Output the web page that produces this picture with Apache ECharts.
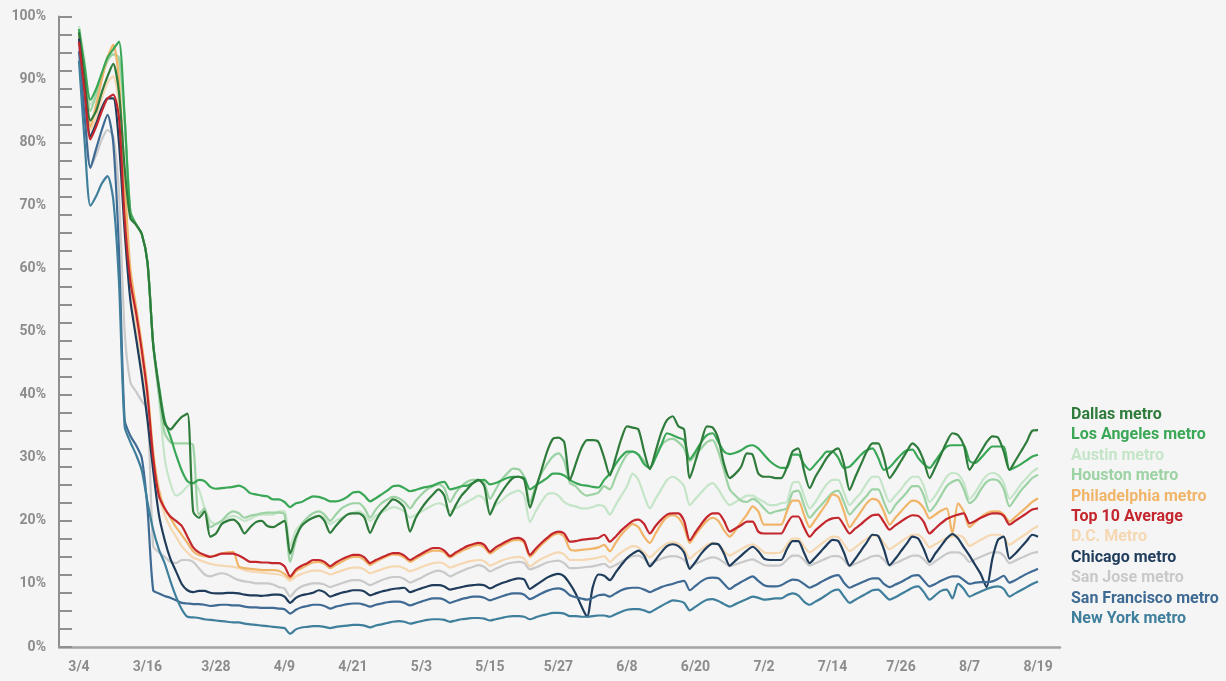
<!DOCTYPE html>
<html>
<head>
<meta charset="utf-8">
<script src="https://cdn.jsdelivr.net/npm/echarts@6/dist/echarts.min.js"></script>
<style>
html,body{margin:0;padding:0;background:#f5f5f5;}
#chart{width:1226px;height:681px;}
</style>
</head>
<body>
<div id="chart"></div>
<script>
// Day index 0 = 3/4 ... 168 = 8/19 (daily values, % of baseline)
const tickLabels = ['3/4','3/16','3/28','4/9','4/21','5/3','5/15','5/27','6/8','6/20','7/2','7/14','7/26','8/7','8/19'];
const yLabels = [0,10,20,30,40,50,60,70,80,90,100];

const dallas = [97.5,90,83.5,85,88,90.5,92.5,88,76,68,
67,65.5,61,48,41,35.5,34.5,35.5,36.5,37,
21.5,20.5,21.5,17.5,18,19.5,20,20.2,19.5,18,
19,19.8,20,19.2,19,19.5,20,14.8,17.5,19.2,
20,20.5,20.8,20,18.1,19.2,20.2,21,21.2,21.2,
20.5,18.1,20,21.5,22.5,23.4,23,22,18.3,20.5,
22,23.2,24.2,25,24,20.8,22.5,24,25,26,
26.5,25.5,21,23,24.5,25.8,26.8,27,26.5,22.1,
25,28,31,33,33.2,32.5,26.5,29,31.5,32.8,
32.8,32.5,30,27.2,30,33,35,34.8,34.5,31,
28.2,31,34,36,36.6,35,34.5,26.8,29.5,32.5,
35,34.8,33,29,26.8,27.5,28.6,30.7,30.5,27.5,
27,27,26.8,26.8,28.5,31,31.5,28,25.2,27,
28.5,30,31,31.5,29,24.9,27,29,31,32.3,
32.3,30,26.8,28,29.5,31,32.3,31.5,29.5,26.8,
28.5,30.5,32.5,33.9,33.6,32,28.1,29.5,31,32.5,
33.4,33.2,31,28.1,29.5,31,32.5,34.3,34.4];

const losAngeles = [98,92,86.8,88.5,91,93.5,94.8,96,84,69,
67,65.5,61,48,41.5,36,33.4,30.5,28,26.3,
26,26.5,26.3,25.4,25.1,25.2,25.3,25.4,25.6,25.2,
24.4,24.2,24,23.9,23.4,23.4,23,22.2,22.8,23,
23.5,23.9,23.8,23.5,23.1,23.1,23.3,23.8,24.5,24.6,
24,23.1,23.6,24.2,24.8,25.5,25.6,25.2,24.7,24.9,
25.2,25.4,25.6,26,26.2,25,25.2,25.5,25.6,26,
26.4,26.5,25.8,26,26.4,26.8,27,27,26.8,25,
25.6,26.2,26.8,27.5,27.5,27.2,26.5,26,25.7,25.6,
25.4,25.3,26.5,27.5,29,30.2,31,31,30.5,29,
28.4,30,32,33.9,33.6,33.2,32.8,29.8,31,32.5,
33.6,33.9,32.5,31,30.6,30.8,31.2,31.8,32,31.5,
30.5,29.5,28.8,28.4,28.4,30.5,30.5,29,28.1,29,
30,31,31,30,28.4,28.6,29.5,30.5,31.2,31.5,
30,28.1,28.5,29.5,30.5,31.2,31.3,30,29,28.4,
29.5,30.8,31.8,32,32,32,29.5,29.2,30,31,
31.8,31.8,31.8,28.1,28.5,29,29.6,30.2,30.5];

const austin = [98.5,93,86,88,91,93.5,94,93,83,69,
67,65.5,61,48,40,30,26,24,24.5,25.5,
26,25,22,20,19.5,20,20.5,20.8,20.5,20,
20.3,20.8,21,21,21,21.5,21.5,16,18.5,19.5,
20,20.5,20.8,20.5,19.5,20,20.5,21,21.3,21.5,
21,20,20.8,21.3,21.8,22.2,22,21.5,20.5,21,
21.5,22,22.5,22.8,22.5,21.5,22,22.5,23,23.5,
24,23.5,21.5,22.5,23.2,24,24.5,24.8,24,19.8,
21.5,23,24.2,24.4,24,23,22.5,22.3,22,22,
22.2,22.5,22.3,21,22.5,24,25.5,27.5,26.5,24,
22,23.5,25,26.5,27,26.5,25.5,22.5,23.5,24.5,
25.5,26,25,23.5,22.5,23,23.5,24,24,23.5,
23,22.5,22.5,22.8,23,26,26.2,24,22,23,
24.5,25.8,26.5,26.5,24.5,22.5,23.5,24.5,26,27,
27,25,23,24,25,26.2,27,27,25.5,23,
24,25.5,27,27.6,27.4,26,23.5,24.5,26,27.2,
27.6,27.3,26,23.5,24.5,25.8,26.8,27.8,28.4];

const houston = [98,92,85,87.5,90.5,93,94,93.5,84,69,
67,65.5,61,48,40,34,32.5,32.3,32.3,32.3,
32,21,22,19,19.5,20,21,21.5,21.2,20.5,
20.8,21,21.2,21.3,21.3,21.3,21,13.5,17,19.5,
20.5,21.2,21.5,21,20,21,22,22.5,22.8,22.8,
22,20.5,21.8,22.8,23.4,23.8,23.6,23,22,23.2,
24.2,25,25.5,25.8,25.2,23,24.5,25.5,26.2,26.5,
26.5,26,23.5,25,26.5,27.5,28.3,28.2,27,23,
25.5,27.5,29,30.2,30.7,29.5,26,25.5,24.5,24,
24.2,24.5,25.5,25,27,29,30.5,31,30.5,29.5,
28.5,30.5,32,32.8,33,32.5,31.5,29.5,30.5,31.5,
32.5,32.8,31,28,25,24,23.2,23,23.5,23,
22,21.2,21.5,21.7,22,24.5,24.8,22.5,20.5,21.5,
22.5,23.5,24.5,24.8,23,21,22,23,24,25,
25,23,21.2,22.5,23.5,24.5,25.5,25.5,24,21.5,
22.5,24,25.5,26.2,26.5,25,22.8,23.5,25,26.2,
26.6,26.4,25,22.3,23.5,24.8,25.8,26.8,27.3];

const philadelphia = [97.5,90,82.5,86,90,93.5,95.5,90,74,60,
54,48,41,31,25,22,20.5,19,17.8,16.5,
15.2,14.6,14.4,14.3,14.6,14.8,15,15.1,12.8,12.5,
12.4,12.3,12.2,12.2,12.2,12.1,11.6,10.9,12,12.5,
13,13.4,13.5,13.2,12.5,13,13.5,14,14.3,14.3,
13.8,13,13.5,14,14.4,14.7,14.6,14.2,13.5,14,
14.5,15,15.3,15.3,15,14.2,14.7,15.2,15.6,16,
16.2,15.8,14.8,15.4,16,16.5,16.9,17,16.5,14.3,
15.2,16.2,17,17.7,18,17.5,15.5,15.3,15.4,15.5,
15.6,15.8,16.2,15.2,16.5,17.8,18.8,19.5,19,17.5,
16.5,18,19.5,20.6,20.9,20.5,19,16.5,17.8,19,
20,20.5,20,18.5,17.5,18.5,19.8,21,22.3,21.5,
19.4,19.4,19.4,19.4,21.5,23.2,23.2,21,19,20.2,
21.5,22.8,24.2,23.8,21.5,19,20.2,21.5,22.8,23.5,
23.2,21.5,19.4,20.5,21.5,22.5,23.2,23,22,20.4,
21,21.6,22,18,22.8,21.5,19,19.8,20.6,21.2,
21.5,21.5,21,19.9,20.6,21.4,22.2,23,23.6];

const top10Average = [96,88,80.5,82.5,85,87,87.6,84,68,58,
53,47,40,30,24,22,20.7,20,19.2,17.5,
15.8,15,14.6,14.3,14.5,14.8,14.8,14.8,14.5,14,
13.5,13.5,13.4,13.4,13.3,13.3,12.8,11.2,12.3,12.9,
13.3,13.8,13.8,13.5,12.8,13.4,13.9,14.3,14.6,14.6,
14.2,13.3,13.8,14.2,14.6,14.9,14.9,14.5,13.8,14.3,
14.8,15.3,15.7,15.7,15.3,14.4,15,15.5,16,16.3,
16.5,16.2,15.1,15.8,16.3,16.8,17.2,17.3,16.8,14.6,
15.6,16.5,17.3,18,18.3,18,16.7,16.8,17,17.1,
17.2,17.3,17.8,16.7,17.5,18.5,19.3,20,20.2,19.5,
18,19.2,20.2,21,21.2,21.2,20,16.9,18.2,19.5,
20.6,21.2,21.2,20,18.3,18.8,19.3,19.9,19.9,18.3,
18,18,18,18,19.5,20.7,20.7,19,17.5,18.5,
19.3,20,20.4,20.5,19.3,18,18.8,19.5,20.3,20.9,
21,19.8,18.6,19.3,19.9,20.5,20.9,20.8,19.8,18,
18.8,19.6,20.3,20.7,21,21.2,19.6,20,20.5,20.9,
21.2,21.2,20.8,19.4,20,20.6,21.2,21.8,22];

const dcMetro = [97,89,82,84,87,89.5,90.5,86,70,58,
51,45,38,29,24,21,19,17.5,16,15,
14.2,13.8,13.5,13.2,13,12.9,12.8,12.7,12.5,12.2,
12,11.9,11.8,11.7,11.6,11.5,11.2,10.5,11.2,11.6,
11.9,12.1,12.1,11.9,11.5,11.8,12.1,12.4,12.6,12.6,
12.3,11.7,12,12.3,12.6,12.8,12.8,12.5,12,12.3,
12.7,13,13.3,13.4,13.2,12.6,12.9,13.2,13.5,13.7,
13.8,13.6,12.9,13.3,13.7,14,14.2,14.3,14,12.8,
13.4,14,14.4,14.8,15,14.7,13.8,13.8,13.8,13.9,
14,14.2,14.4,13.5,14.3,15,15.6,16,15.8,15,
14.2,15,15.8,16.4,16.6,16.4,15.6,14,14.8,15.5,
16.2,16.5,16.2,15.2,14.5,15,15.5,16,16.3,15.8,
15,14.9,14.9,15,16.2,17.2,17.2,16,15,15.6,
16.3,17,17.5,17.4,16.3,15.2,15.8,16.5,17.2,17.7,
17.6,16.5,15.5,16.1,16.7,17.3,17.8,17.8,17,15.8,
16.3,16.8,17.3,17.5,17.7,17.3,16,16.5,17,17.5,
17.8,17.8,17.4,16.2,16.8,17.4,18,18.7,19.2];

const chicago = [96.5,88,81,83,85.5,87,87,80,66,55,
49,43,36,28,21,17,14,12,10,9,
8.7,8.9,8.9,8.6,8.5,8.5,8.6,8.6,8.5,8.3,
8.2,8.2,8.1,8.2,8.3,8.3,8,7,7.8,8.2,
8.4,8.6,9,8.7,8,8.3,8.6,8.8,9,9,
8.8,8.2,8.5,8.8,9,9.2,9.3,9.4,8.7,9,
9.3,9.6,9.8,9.8,9.6,9.1,9.3,9.5,9.7,9.8,
9.9,9.8,9.3,9.7,10.1,10.4,10.7,10.9,10.7,9.2,
9.8,10.4,11,11.4,11.6,11.2,10,8.5,6.5,4.8,
9.5,11.5,11.3,10.6,11.8,13,14.1,14.8,15.3,14.5,
12.8,13.8,15,16,16.3,16,15,12.4,13.5,14.8,
15.8,16.4,16.3,14.8,12.9,13.7,14.5,15.3,15.9,15.2,
14,13.8,13.8,13.8,15.5,16.8,16.8,15,13.3,14.2,
15.2,16.2,17,16.8,15,12.9,14,15.3,16.6,17.8,
17.6,15.5,13,14,15.2,16.4,17.5,17.2,15.5,13.5,
14.8,16,17.2,17.9,17.2,15.8,14.5,13,11.5,9.5,
14,17,17.5,14,14.8,15.8,16.8,17.8,17.5];

const sanJose = [95,86,76,78,80.5,82,81,72,50,42,
40.5,39,37.6,16,15,14.3,13.5,13.3,13.8,13.8,
13.5,12.5,11.5,11.2,11.5,11.7,11.5,11,10.6,10.4,
10.3,10.1,10.1,10.1,9.9,9.5,9.3,8,9,9.6,
9.9,10.1,10.1,9.9,9.5,9.8,10.1,10.4,10.6,10.6,
10.3,9.8,10.2,10.6,10.9,11.1,11.1,10.8,10.2,10.6,
11,11.5,11.9,12.1,11.8,11.2,11.6,12,12.4,12.7,
13,12.7,12,12.4,12.8,13.2,13.4,13.5,13.3,12.3,
12.6,13,13.4,13.6,13.7,13.3,12.5,12.5,12.6,12.7,
12.8,13,13.2,12.6,13,13.5,14,14.4,14.5,14,
13.2,13.6,14,14.3,14.4,14.3,13.8,12.8,13.2,13.6,
14,14.2,14,13.4,12.8,13.1,13.4,13.7,13.9,13.5,
13,12.9,12.9,13,13.8,14.5,14.5,13.8,12.9,13.3,
13.7,14.1,14.4,14.4,13.8,12.8,13.2,13.6,14,14.4,
14.5,13.8,12.9,13.3,13.7,14.1,14.5,14.5,13.9,13,
13.6,14.2,14.8,15,15,14.5,13.5,13.9,14.3,14.7,
15,15,14.5,13.3,13.7,14.1,14.5,14.9,15.1];

const sanFrancisco = [94.5,84,76,79,82,84.4,80,63,36,33.5,
32,30,22,9,8.5,8.1,7.8,7.4,7,6.9,
6.8,6.8,6.7,6.5,6.6,6.7,6.7,6.6,6.6,6.4,
6.3,6.3,6.2,6.2,6.2,6.1,6,5.3,5.9,6.3,
6.5,6.7,6.7,6.5,6.1,6.4,6.6,6.8,6.9,6.9,
6.7,6.4,6.7,6.9,7.1,7.2,7.2,7,6.6,6.9,
7.2,7.5,7.7,7.7,7.5,7,7.3,7.6,7.8,8,
8,7.8,7.4,7.7,8,8.3,8.5,8.5,8.3,7.6,
8,8.5,8.9,9.2,9.3,9,8.2,7.9,7.7,7.5,
7.8,8.2,8.3,8,8.5,9,9.3,9.4,9.4,9.1,
8.7,9.1,9.5,9.8,10,10.3,10.5,9,9.7,10.4,
10.9,11,10.9,10,9.2,9.8,10.3,10.8,11.2,10.5,
9.8,9.6,9.6,9.8,10.3,10.7,10.6,10,9.4,9.8,
10.3,10.8,11.2,11.4,10.2,9.4,9.8,10.2,10.6,10.9,
10.9,10,9.5,9.9,10.3,10.8,11.3,11.4,10.5,9.6,
10,10.5,10.9,11.2,11.2,10.6,10,10.2,10.3,10.3,
10.4,10.8,11.3,10.2,10.6,11.1,11.6,12,12.4];

const newYork = [93,80,70,71.5,73.5,74.7,71,58,35,32.5,
30.5,28,23,18.6,15.5,13.3,10.5,8,6,4.8,
4.7,4.6,4.4,4.3,4.2,4.1,4,3.9,3.9,3.7,
3.6,3.5,3.4,3.3,3.2,3.1,3,2.1,2.8,3.1,
3.2,3.3,3.3,3.2,3,3.2,3.3,3.4,3.5,3.5,
3.4,3.1,3.4,3.6,3.8,4,4.1,4,3.7,3.9,
4.1,4.3,4.4,4.4,4.3,4,4.2,4.4,4.5,4.6,
4.6,4.5,4.2,4.4,4.6,4.8,4.9,4.9,4.8,4.4,
4.7,5,5.2,5.4,5.4,5.3,4.9,4.9,4.8,4.8,
4.9,5,5,4.8,5.2,5.6,5.9,6,6,5.8,
5.5,6,6.5,7,7.4,7.3,7,5.8,6.4,7,
7.5,7.6,7.3,6.8,6.4,6.8,7.2,7.6,8,7.8,
7.5,7.6,7.7,7.7,8.2,8.5,8.2,7.2,6.7,7.2,
7.7,8.3,8.9,9.1,8,7,7.5,8,8.5,9,
9.1,8.3,7.5,7.9,8.4,8.9,9.4,9.6,8.7,7.5,
8.2,8.9,9.1,7.7,10,9.2,8,8.4,8.8,9.2,
9.5,9.6,9.2,8,8.5,9,9.5,10,10.4];

const seriesNames = ['Dallas metro','Los Angeles metro','Austin metro','Houston metro','Philadelphia metro','Top 10 Average','D.C. Metro','Chicago metro','San Jose metro','San Francisco metro','New York metro'];
const seriesValues = [dallas, losAngeles, austin, houston, philadelphia, top10Average, dcMetro, chicago, sanJose, sanFrancisco, newYork];
const seriesColors = ['#2e7b3b','#3aa757','#c5e5c8','#9dd3a4','#f1b56a','#c3272d','#f5d8b2','#1f3c5b','#c9c9c9','#3e6a93','#3f7f9c'];
// drawing order (later on top)
const drawOrder = [6,8,2,3,4,1,0,7,9,10,5];

const chart = echarts.init(document.getElementById('chart'), null, {renderer:'canvas'});
const FONT = 'Roboto, "Noto Sans", sans-serif';

const yTicks = [];
for (let k = 0; k <= 35; k++) yTicks.push(k * 100 / 35);
const xTicks = tickLabels.map((_, k) => k * 12);

const series = drawOrder.map(idx => ({
  name: seriesNames[idx],
  type: 'line',
  data: seriesValues[idx].map((v, i) => [i, v]),
  showSymbol: false,
  symbol: 'none',
  smooth: 0.25,
  lineStyle: { width: 2.2, color: seriesColors[idx] },
  itemStyle: { color: seriesColors[idx] },
  emphasis: { disabled: true }
}));

chart.setOption({
  animation: false,
  backgroundColor: '#f5f5f5',
  grid: { left: 59, right: 166, top: 16.5, bottom: 34, containLabel: false },
  xAxis: {
    type: 'value',
    min: -3.5,
    max: 171.85,
    axisLine: { show: true, onZero: false, lineStyle: { color: '#a3a3a3', width: 2.5 } },
    axisTick: { show: false },
    splitLine: { show: false },
    axisLabel: {
      customValues: xTicks,
      formatter: v => tickLabels[Math.round(v / 12)],
      color: '#8c8c8c', fontWeight: 'bold', fontSize: 14, fontFamily: FONT, margin: 13
    }
  },
  yAxis: {
    type: 'value',
    min: 0,
    max: 100,
    axisLine: { show: true, onZero: false, lineStyle: { color: '#8f8f8f', width: 2 } },
    axisTick: { show: true, inside: true, length: 13, customValues: yTicks, lineStyle: { color: '#8f8f8f', width: 2 } },
    splitLine: { show: false },
    axisLabel: {
      customValues: yLabels,
      formatter: v => v + '%',
      color: '#8c8c8c', fontWeight: 'bold', fontSize: 14, fontFamily: FONT, margin: 13
    }
  },
  legend: {
    orient: 'vertical',
    left: 1061,
    top: 400,
    itemWidth: 0,
    itemHeight: 20,
    itemGap: 0.4,
    icon: 'rect',
    selectedMode: false,
    itemStyle: { opacity: 0 },
    data: seriesNames.map((n, k) => ({ name: n, textStyle: { color: seriesColors[k] } })),
    textStyle: { fontFamily: FONT, fontWeight: 'bold', fontSize: 16 }
  },
  series: series
});
</script>
</body>
</html>
